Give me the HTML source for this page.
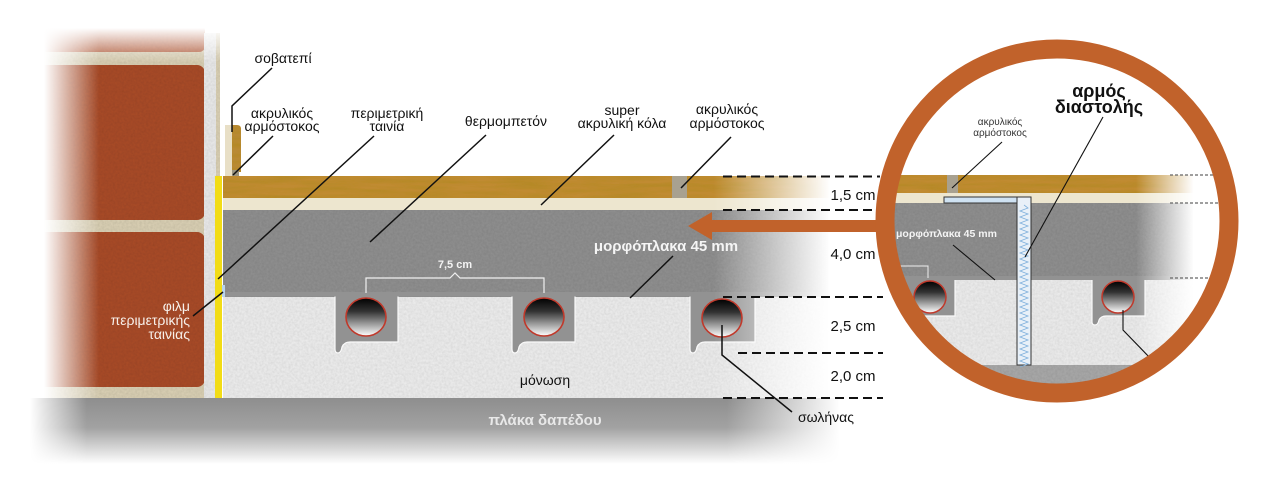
<!DOCTYPE html>
<html><head><meta charset="utf-8"><style>
html,body{margin:0;padding:0;background:#fff}
svg{display:block}
text{font-family:"Liberation Sans","DejaVu Sans",sans-serif}
</style></head><body>
<svg width="1267" height="495" viewBox="0 0 1267 495" xmlns="http://www.w3.org/2000/svg">
<defs>
<filter id="tex" x="0" y="0" width="100%" height="100%">
  <feTurbulence type="fractalNoise" baseFrequency="0.45" numOctaves="2" seed="3" result="n"/>
  <feColorMatrix in="n" type="matrix" values="0 0 0 0 0  0 0 0 0 0  0 0 0 0 0  0 0 0 0.22 0" result="a"/>
  <feComposite in="a" in2="SourceGraphic" operator="in" result="b"/>
  <feMerge><feMergeNode in="SourceGraphic"/><feMergeNode in="b"/></feMerge>
</filter>
<filter id="woodf" x="0" y="0" width="100%" height="100%">
  <feTurbulence type="fractalNoise" baseFrequency="0.02 0.25" numOctaves="3" seed="7" result="n"/>
  <feColorMatrix in="n" type="matrix" values="0 0 0 0 0.45  0 0 0 0 0.25  0 0 0 0 0.02  0 0 0 1.6 -0.5" result="a"/>
  <feComposite in="a" in2="SourceGraphic" operator="in" result="b"/>
  <feMerge><feMergeNode in="SourceGraphic"/><feMergeNode in="b"/></feMerge>
</filter>
<linearGradient id="pipe" x1="0" y1="0" x2="0" y2="1">
  <stop offset="0" stop-color="#000"/><stop offset="0.35" stop-color="#333"/><stop offset="1" stop-color="#fff"/>
</linearGradient>
<linearGradient id="fadeR" x1="0" y1="0" x2="1" y2="0">
  <stop offset="0" stop-color="#fff"/><stop offset="0.86" stop-color="#fff"/><stop offset="1" stop-color="#000"/>
</linearGradient>
<mask id="mainMask" maskUnits="userSpaceOnUse" x="0" y="0" width="1267" height="495">
  <rect x="0" y="0" width="830" height="495" fill="url(#fadeR)"/>
</mask>
<linearGradient id="fadeL" x1="0" y1="0" x2="1" y2="0">
  <stop offset="0" stop-color="#000"/><stop offset="0.2" stop-color="#000"/><stop offset="0.45" stop-color="#fff"/><stop offset="1" stop-color="#fff"/>
</linearGradient>
<linearGradient id="fadeTop" x1="0" y1="0" x2="0" y2="1">
  <stop offset="0" stop-color="#fff" stop-opacity="1"/><stop offset="0.45" stop-color="#fff" stop-opacity="1"/><stop offset="1" stop-color="#fff" stop-opacity="0"/>
</linearGradient>
<mask id="wallMask" maskUnits="userSpaceOnUse" x="0" y="0" width="1267" height="495">
  <rect x="0" y="0" width="220" height="495" fill="url(#fadeL)"/>
</mask>
<linearGradient id="gndG" x1="0" y1="0" x2="0" y2="1">
  <stop offset="0" stop-color="#8e8e8e"/><stop offset="0.45" stop-color="#a2a2a2"/><stop offset="1" stop-color="#ffffff"/>
</linearGradient>
<linearGradient id="gndH" x1="0" y1="0" x2="1" y2="0">
  <stop offset="0" stop-color="#000"/><stop offset="0.07" stop-color="#fff"/><stop offset="0.86" stop-color="#fff"/><stop offset="1" stop-color="#000"/>
</linearGradient>
<mask id="gndMask" maskUnits="userSpaceOnUse" x="0" y="0" width="1267" height="495">
  <rect x="30" y="390" width="810" height="80" fill="url(#gndH)"/>
</mask>
<clipPath id="circ"><circle cx="1057" cy="221" r="164"/></clipPath>
<linearGradient id="fadeC" x1="0" y1="0" x2="1" y2="0">
  <stop offset="0" stop-color="#fff"/><stop offset="0.8" stop-color="#fff"/><stop offset="0.98" stop-color="#000"/>
</linearGradient>
<mask id="circMask" maskUnits="userSpaceOnUse" x="0" y="0" width="1267" height="495">
  <rect x="880" y="0" width="320" height="495" fill="url(#fadeC)"/>
</mask>
</defs>

<!-- WALL -->
<g mask="url(#wallMask)">
  <rect x="20" y="33" width="200" height="365" fill="#dcd2b6" filter="url(#tex)"/>
  <rect x="20" y="25" width="185" height="27" rx="6" fill="#b8603f" filter="url(#tex)"/>
  <rect x="20" y="65" width="185" height="155" rx="8" fill="#ab4d2c" filter="url(#tex)"/>
  <rect x="20" y="232" width="185" height="155" rx="8" fill="#ab4d2c" filter="url(#tex)"/>
  <rect x="204" y="33" width="12" height="365" fill="#ececec" filter="url(#tex)"/>
</g>
<rect x="0" y="0" width="222" height="62" fill="url(#fadeTop)"/>

<!-- skirting -->
<rect x="225" y="125" width="8" height="51" fill="#e8dfc6"/>
<path d="M232,125 h5 q4,0 4,4 v43 h-9z" fill="#b98a35" filter="url(#woodf)"/>
<rect x="232" y="170" width="7" height="6" fill="#9a9480"/>

<!-- MAIN LAYERS -->
<g mask="url(#mainMask)">
  <rect x="223" y="176" width="610" height="22" fill="#c08b30" filter="url(#woodf)"/>
  <rect x="672" y="176" width="15" height="22" fill="#a8a190"/>
  <rect x="223" y="198" width="610" height="12" fill="#ede6cf"/>
  <rect x="223" y="210" width="610" height="88" fill="#929292" filter="url(#tex)"/>
  <rect x="223" y="297" width="610" height="101" fill="#f0f0f0" filter="url(#tex)"/>
  <g fill="#929292" stroke="#fafafa" stroke-width="1.2">
    <path d="M335,296 V349 q0,4 3,4 q3,0 4,-6 q2,-5 8,-5 H398 V296"/>
    <path d="M512,296 V349 q0,4 3,4 q3,0 4,-6 q2,-5 8,-5 H575 V296"/>
    <path d="M690,296 V349 q0,4 3,4 q3,0 4,-6 q2,-5 8,-5 H755 V296"/>
  </g>
  <rect x="223" y="292" width="610" height="4.5" fill="#929292"/>
</g>
<rect x="215" y="176" width="7" height="222" fill="#f2dc16"/>
<rect x="222" y="285" width="3" height="12" fill="#b8d4ee"/>

<!-- ground -->
<g mask="url(#gndMask)">
  <rect x="30" y="398" width="810" height="66" fill="url(#gndG)"/>
</g>

<!-- pipes main -->
<g stroke="#c0392b" stroke-width="1.6" fill="url(#pipe)">
  <ellipse cx="366" cy="317" rx="20" ry="19"/>
  <ellipse cx="544" cy="317" rx="20" ry="19"/>
  <ellipse cx="722" cy="318" rx="20" ry="19"/>
</g>

<!-- 7,5 bracket -->
<path d="M366,293 V278 H450 L455,273 L460,278 H544 V293" fill="none" stroke="#f0f0f0" stroke-width="1.2"/>
<text x="455" y="268" font-size="11" font-weight="bold" fill="#f4f4f4" text-anchor="middle">7,5 cm</text>

<!-- dashed lines -->
<g stroke="#111" stroke-width="2" stroke-dasharray="9,5">
  <line x1="723" y1="176.5" x2="880" y2="176.5"/>
  <line x1="723" y1="210" x2="873" y2="210"/>
  <line x1="723" y1="297" x2="883" y2="297"/>
  <line x1="738" y1="353" x2="883" y2="353"/>
  <line x1="723" y1="398" x2="883" y2="398"/>
</g>
<g font-size="15" fill="#111" text-anchor="middle">
  <text x="853" y="200">1,5 cm</text>
  <text x="853" y="259">4,0 cm</text>
  <text x="853" y="331">2,5 cm</text>
  <text x="853" y="381">2,0 cm</text>
</g>

<!-- arrow -->
<rect x="708" y="220" width="175" height="12" fill="#c1622b"/>
<polygon points="688,226 712,212 712,240" fill="#c1622b"/>

<!-- CIRCLE CONTENT -->
<g clip-path="url(#circ)">
  <rect x="880" y="20" width="360" height="400" fill="#fff"/>
  <g mask="url(#circMask)">
    <rect x="880" y="175" width="320" height="18" fill="#c08b30" filter="url(#woodf)"/>
    <rect x="947" y="175" width="11" height="18" fill="#a8a190"/>
    <rect x="880" y="193" width="320" height="10" fill="#ede6cf"/>
    <rect x="880" y="203" width="320" height="80" fill="#929292" filter="url(#tex)"/>
    <rect x="880" y="280" width="320" height="85" fill="#f0f0f0" filter="url(#tex)"/>
    <g fill="#929292" stroke="#fafafa" stroke-width="1.2">
      <path d="M895,279 V322 q0,3 3,3 q3,0 4,-5 q2,-4 7,-4 H955 V279"/>
      <path d="M1092,279 V322 q0,3 3,3 q3,0 4,-5 q2,-4 7,-4 H1145 V279"/>
    </g>
    <rect x="880" y="276" width="320" height="4" fill="#929292"/>
    <rect x="880" y="365" width="320" height="60" fill="#ababab" filter="url(#tex)"/>
  </g>
  <g stroke="#c0392b" stroke-width="1.5" fill="url(#pipe)">
    <circle cx="930" cy="297" r="16"/>
    <circle cx="1118" cy="297" r="16"/>
  </g>
  <path d="M898,266 H928 V278" fill="none" stroke="#eee" stroke-width="1"/>
  <rect x="944" y="197" width="87" height="6" fill="#cfe2f2" stroke="#333" stroke-width="1"/>
  <rect x="1017" y="197" width="14" height="168" fill="#e8f0f8" stroke="#333" stroke-width="1"/>
  <path d="M1024,205 l4,3 l-8,3 l8,3 l-8,3 l8,3 l-8,3 l8,3 l-8,3 l8,3 l-8,3 l8,3 l-8,3 l8,3 l-8,3 l8,3 l-8,3 l8,3 l-8,3 l8,3 l-8,3 l8,3 l-8,3 l8,3 l-8,3 l8,3 l-8,3 l8,3 l-8,3 l8,3 l-8,3 l8,3 l-8,3 l8,3 l-8,3 l8,3 l-8,3 l8,3 l-8,3 l8,3 l-8,3 l8,3 l-8,3 l8,3 l-8,3 l8,3 l-8,3 l8,3 l-8,3 l8,3 l-8,3 l8,3 l-8,3 l8,3 l-8,3" fill="none" stroke="#7fb0dc" stroke-width="0.8"/>
  <g stroke="#666" stroke-width="1.2" stroke-dasharray="3,2">
    <line x1="1170" y1="175" x2="1225" y2="175"/>
    <line x1="1170" y1="203" x2="1225" y2="203"/>
    <line x1="1170" y1="278" x2="1225" y2="278"/>
  </g>
  <text x="896" y="237" font-size="10.5" font-weight="bold" fill="#f4f4f4">μορφόπλακα 45 mm</text>
  <g stroke="#111" stroke-width="1.1" fill="none">
    <line x1="953" y1="245" x2="995" y2="280"/>
    <line x1="1002" y1="142" x2="952" y2="188"/>
    <line x1="1103" y1="117" x2="1025" y2="257"/>
    <path d="M1123,310 V330 L1152,360"/>
  </g>
</g>
<circle cx="1057" cy="221" r="172" fill="none" stroke="#c1622b" stroke-width="19"/>
<text x="1099" y="97" font-size="18" font-weight="bold" fill="#111" text-anchor="middle">αρμός</text>
<text x="1099" y="113" font-size="18" font-weight="bold" fill="#111" text-anchor="middle">διαστολής</text>
<text x="1000" y="125" font-size="10" fill="#333" text-anchor="middle">ακρυλικός</text>
<text x="1000" y="136" font-size="10" fill="#333" text-anchor="middle">αρμόστοκος</text>

<!-- leaders main -->
<g stroke="#111" stroke-width="1.5" fill="none">
  <path d="M272,68 L232,106 V132"/>
  <line x1="273" y1="136" x2="233" y2="175"/>
  <line x1="374" y1="136" x2="218" y2="279"/>
  <line x1="193" y1="316" x2="223" y2="292"/>
  <line x1="486" y1="135" x2="370" y2="242"/>
  <line x1="614" y1="135" x2="541" y2="205"/>
  <line x1="731" y1="137" x2="681" y2="188"/>
  <line x1="673" y1="256" x2="630" y2="298"/>
  <path d="M722,325 V355 L792,412"/>
</g>

<!-- labels main -->
<g font-size="14" fill="#111" text-anchor="middle">
  <text x="283" y="63">σοβατεπί</text>
  <text x="282" y="118">ακρυλικός</text>
  <text x="282" y="131">αρμόστοκος</text>
  <text x="387" y="118">περιμετρική</text>
  <text x="387" y="131">ταινία</text>
  <text x="506" y="126">θερμομπετόν</text>
  <text x="622" y="115">super</text>
  <text x="622" y="128">ακρυλική κόλα</text>
  <text x="727" y="114">ακρυλικός</text>
  <text x="727" y="128">αρμόστοκος</text>
  <text x="545" y="385">μόνωση</text>
  <text x="826" y="422">σωλήνας</text>
</g>
<g font-size="14" fill="#f7f0ea" text-anchor="end">
  <text x="190" y="311">φιλμ</text>
  <text x="190" y="325">περιμετρικής</text>
  <text x="190" y="339">ταινίας</text>
</g>
<text x="666" y="251" font-size="15" font-weight="bold" fill="#f5f5f5" text-anchor="middle">μορφόπλακα 45 mm</text>
<text x="545" y="425" font-size="15" font-weight="bold" fill="#e8e8e8" text-anchor="middle">πλάκα δαπέδου</text>
</svg>
</body></html>
